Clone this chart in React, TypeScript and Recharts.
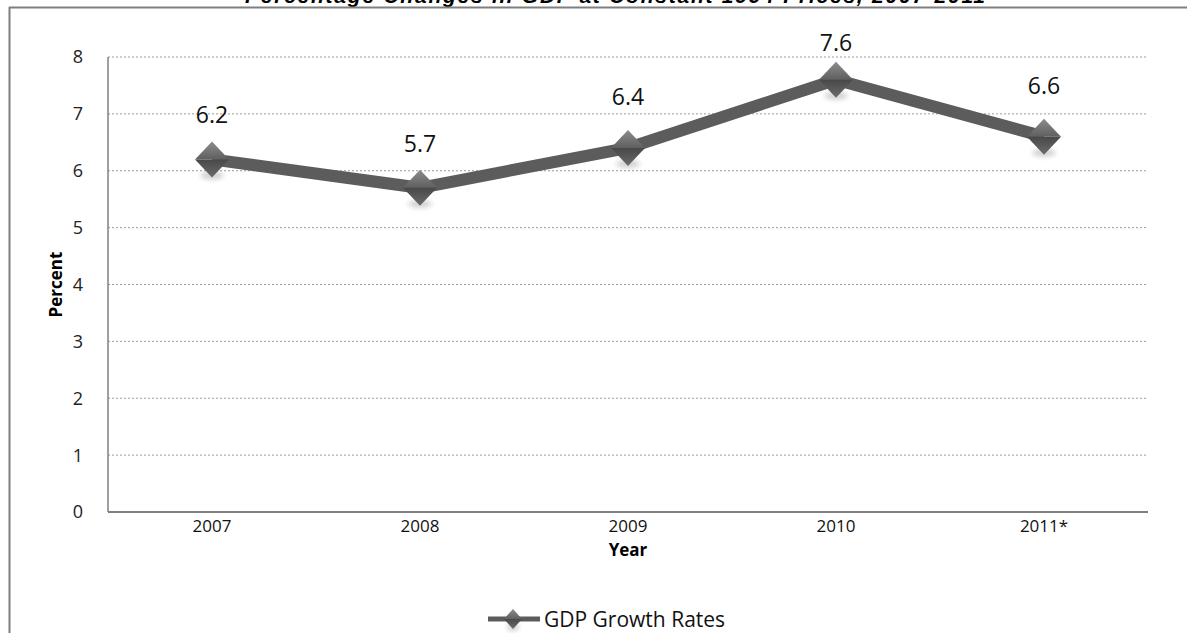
import React from 'react';
import {
  LineChart,
  Line,
  XAxis,
  YAxis,
  CartesianGrid,
  LabelList,
} from 'recharts';

// GDP growth, percent change at constant prices
const years = ['2007', '2008', '2009', '2010', '2011*'];
const growthRates = [6.2, 5.7, 6.4, 7.6, 6.6];
const yTicks = [0, 1, 2, 3, 4, 5, 6, 7, 8];

const chartTitle = 'Percentage Changes in GDP at Constant 1994 Prices, 2007-2011';
const seriesName = 'GDP Growth Rates';

// how far each value label sits above its marker
const labelLift = [36, 36, 43, 29, 43];

const data = years.map((year, i) => ({ year, rate: growthRates[i] }));

const FONT = '"Open Sans", "DejaVu Sans", sans-serif';
const LINE_COLOR = '#5c5c5c';

function Diamond({ cx, cy, w = 17, h = 18 }: { cx: number; cy: number; w?: number; h?: number }) {
  return (
    <g>
      <ellipse cx={cx} cy={cy + h - 2} rx={w * 0.7} ry={4} fill="#000" opacity={0.18} filter="url(#soft)" />
      <polygon points={`${cx},${cy - h} ${cx + w},${cy} ${cx - w},${cy}`} fill="url(#diaTop)" />
      <polygon points={`${cx - w},${cy} ${cx + w},${cy} ${cx},${cy + h}`} fill="url(#diaBottom)" />
    </g>
  );
}

const renderDot = (props: any) => {
  const { cx, cy, index } = props;
  if (cx == null || cy == null) return <g key={`d-${index}`} />;
  return <Diamond key={`d-${index}`} cx={cx} cy={cy} />;
};

const renderValueLabel = (props: any) => {
  const { x, y, value, index } = props;
  return (
    <text
      x={x}
      y={y - labelLift[index]}
      textAnchor="middle"
      fontFamily={FONT}
      fontSize={23}
      fill="#111"
    >
      {value}
    </text>
  );
};

export default function App() {
  return (
    <div
      style={{
        position: 'absolute',
        left: 0,
        top: 0,
        width: 1187,
        height: 633,
        overflow: 'hidden',
        background: '#fff',
      }}
    >
      <svg width={1187} height={633} style={{ position: 'absolute', left: 0, top: 0 }}>
        <text
          x={615}
          y={3}
          textAnchor="middle"
          fontFamily='"Liberation Sans", Arial, sans-serif'
          fontWeight="bold"
          fontStyle="italic"
          fontSize={21}
          textLength={740}
          fill="#000"
        >
          {chartTitle}
        </text>
        <line x1={9} y1={7.5} x2={1187} y2={7.5} stroke="#7f7f7f" strokeWidth={2} />
        <line x1={9.5} y1={7} x2={9.5} y2={633} stroke="#7f7f7f" strokeWidth={2} />
      </svg>

      <div style={{ position: 'absolute', left: 0, top: 0 }}>
        <LineChart
          width={1187}
          height={633}
          data={data}
          margin={{ top: 57, right: 39, bottom: 91, left: 48 }}
        >
          <defs>
            <linearGradient id="diaTop" x1="0" y1="0" x2="0" y2="1">
              <stop offset="0%" stopColor="#8c8c8c" />
              <stop offset="100%" stopColor="#5f5f5f" />
            </linearGradient>
            <linearGradient id="diaBottom" x1="0" y1="0" x2="0" y2="1">
              <stop offset="0%" stopColor="#484848" />
              <stop offset="100%" stopColor="#6b6b6b" />
            </linearGradient>
            <filter id="soft" x="-50%" y="-100%" width="200%" height="300%">
              <feGaussianBlur stdDeviation="2.5" />
            </filter>
          </defs>
          <CartesianGrid
            vertical={false}
            stroke="#9a9a9a"
            strokeDasharray="2 2"
          />
          <XAxis
            dataKey="year"
            height={30}
            padding={{ left: 104, right: 104 }}
            tickLine={false}
            tickSize={0}
            tickMargin={8}
            axisLine={{ stroke: '#808080', strokeWidth: 2 }}
            tick={{ fontFamily: FONT, fontSize: 17, fill: '#111' }}
            label={{
              value: 'Year',
              position: 'bottom',
              offset: 2,
              style: { fontFamily: FONT, fontSize: 17, fontWeight: 'bold', fill: '#000' },
            }}
          />
          <YAxis
            width={60}
            domain={[0, 8]}
            ticks={yTicks}
            tickLine={false}
            tickSize={0}
            tickMargin={25}
            axisLine={{ stroke: '#808080', strokeWidth: 1.5 }}
            tick={{ fontFamily: FONT, fontSize: 18, fill: '#222' }}
            label={{
              value: 'Percent',
              angle: -90,
              position: 'insideLeft',
              offset: 8,
              style: { fontFamily: FONT, fontSize: 17, fontWeight: 'bold', fill: '#000', textAnchor: 'middle' },
            }}
          />
          <Line
            type="linear"
            dataKey="rate"
            name={seriesName}
            stroke={LINE_COLOR}
            strokeWidth={12}
            dot={renderDot}
            activeDot={false}
            isAnimationActive={false}
          >
            <LabelList dataKey="rate" content={renderValueLabel} />
          </Line>
        </LineChart>
      </div>

      <div
        style={{
          position: 'absolute',
          left: 486,
          top: 605,
          display: 'flex',
          alignItems: 'center',
          fontFamily: FONT,
          fontSize: 21,
          color: '#111',
        }}
      >
        <svg width={56} height={28}>
          <line x1={2} y1={14} x2={54} y2={14} stroke={LINE_COLOR} strokeWidth={5} />
          <Diamond cx={27} cy={14} w={9} h={10} />
        </svg>
        <span style={{ marginLeft: 2 }}>{seriesName}</span>
      </div>
    </div>
  );
}
